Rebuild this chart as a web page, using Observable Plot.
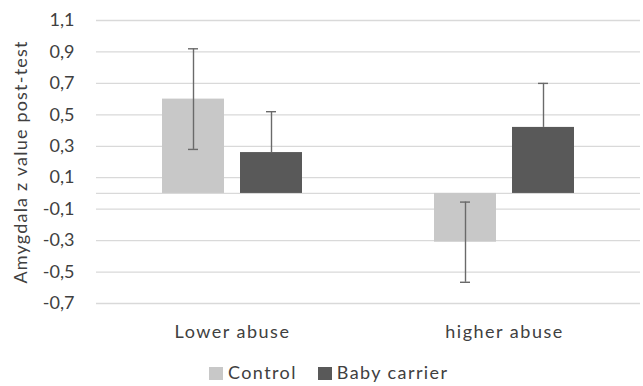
<!DOCTYPE html>
<html>
<head>
<meta charset="utf-8">
<script src="https://cdn.jsdelivr.net/npm/d3@7"></script>
<script src="https://cdn.jsdelivr.net/npm/@observablehq/plot@0.6"></script>
<style>
  html, body { margin: 0; padding: 0; background: #fff; }
  body { width: 643px; height: 386px; overflow: hidden; font-family: Lato, "Open Sans", sans-serif; }
  #legend { display: flex; justify-content: flex-start; align-items: center; height: 24px; line-height: 22px; font-size: 18px; letter-spacing: 1.4px; color: #404040; padding-left: 209px; padding-top: 8px; }
  #legend .item { margin-right: 21px; white-space: nowrap; }
  #legend span.sw { display: inline-block; width: 14px; height: 13px; margin-right: 5px; vertical-align: -1px; }
  .xax text { letter-spacing: 1.5px; }
</style>
</head>
<body>
<div id="chart"></div>
<div id="legend"></div>
<script>
const categories = ["Lower abuse", "higher abuse"];
const series = ["Control", "Baby carrier"];
const controlValues = [0.60, -0.31];
const babyValues = [0.26, 0.42];
const controlErr = [0.32, 0.255];
const babyErr = [0.26, 0.28];
const yTicks = [-0.7, -0.5, -0.3, -0.1, 0.1, 0.3, 0.5, 0.7, 0.9, 1.1];
const yTitle = "Amygdala z value post-test";
const colors = ["#c8c8c8", "#595959"];

const rows = [];
categories.forEach((c, i) => {
  rows.push({category: c, series: series[0], value: controlValues[i], err: controlErr[i]});
  rows.push({category: c, series: series[1], value: babyValues[i], err: babyErr[i]});
});
const ctrlRows = rows.filter(d => d.series === series[0]);
const babyRows = rows.filter(d => d.series === series[1]);
const fmt = d => d.toFixed(1).replace(".", ",");
const errStyle = {stroke: "#6a6a6a", strokeWidth: 1.4};

const chart = Plot.plot({
  width: 643,
  height: 352,
  marginLeft: 96,
  marginRight: 3,
  marginTop: 20,
  marginBottom: 49,
  style: {fontFamily: "Lato, 'Open Sans', sans-serif", fontSize: "18px", color: "#404040", background: "#fff"},
  fx: {domain: categories, padding: 0, label: null},
  x: {domain: series, paddingInner: 0.205, paddingOuter: 0.846, axis: null},
  y: {domain: [-0.7, 1.1], ticks: yTicks},
  color: {domain: series, range: colors},
  marks: [
    Plot.ruleY(yTicks, {stroke: "#d9d9d9", strokeWidth: 1.3}),
    Plot.ruleY([0], {stroke: "#d9d9d9", strokeWidth: 1.3}),
    Plot.barY(rows, {fx: "category", x: "series", y: "value", fill: "series"}),
    // Control: symmetric error bars drawn over the bars
    Plot.ruleX(ctrlRows, {fx: "category", x: "series", y1: d => d.value - d.err, y2: d => d.value + d.err, ...errStyle}),
    Plot.tickY(ctrlRows, {fx: "category", x: "series", y: d => d.value - d.err, ...errStyle, insetLeft: 26, insetRight: 26}),
    Plot.tickY(ctrlRows, {fx: "category", x: "series", y: d => d.value + d.err, ...errStyle, insetLeft: 26, insetRight: 26}),
    // Baby carrier: plus error only
    Plot.ruleX(babyRows, {fx: "category", x: "series", y1: "value", y2: d => d.value + d.err, ...errStyle}),
    Plot.tickY(babyRows, {fx: "category", x: "series", y: d => d.value + d.err, ...errStyle, insetLeft: 26, insetRight: 26}),
    Plot.axisY({ticks: yTicks, tickFormat: fmt, tickSize: 0, tickPadding: 22, fontSize: 18, label: yTitle, labelAnchor: "center", labelArrow: "none", labelOffset: 82}),
    Plot.axisFx({anchor: "bottom", tickSize: 0, tickPadding: 22, fontSize: 18, label: null, className: "xax"})
  ]
});
d3.select(chart).selectAll("text").filter(function() { return this.textContent === yTitle; })
  .style("letter-spacing", "1.2px");
document.getElementById("chart").appendChild(chart);

const legend = document.getElementById("legend");
series.forEach((s, i) => {
  const item = document.createElement("div");
  item.className = "item";
  item.innerHTML = `<span class="sw" style="background:${colors[i]}"></span>${s}`;
  legend.appendChild(item);
});
</script>
</body>
</html>
